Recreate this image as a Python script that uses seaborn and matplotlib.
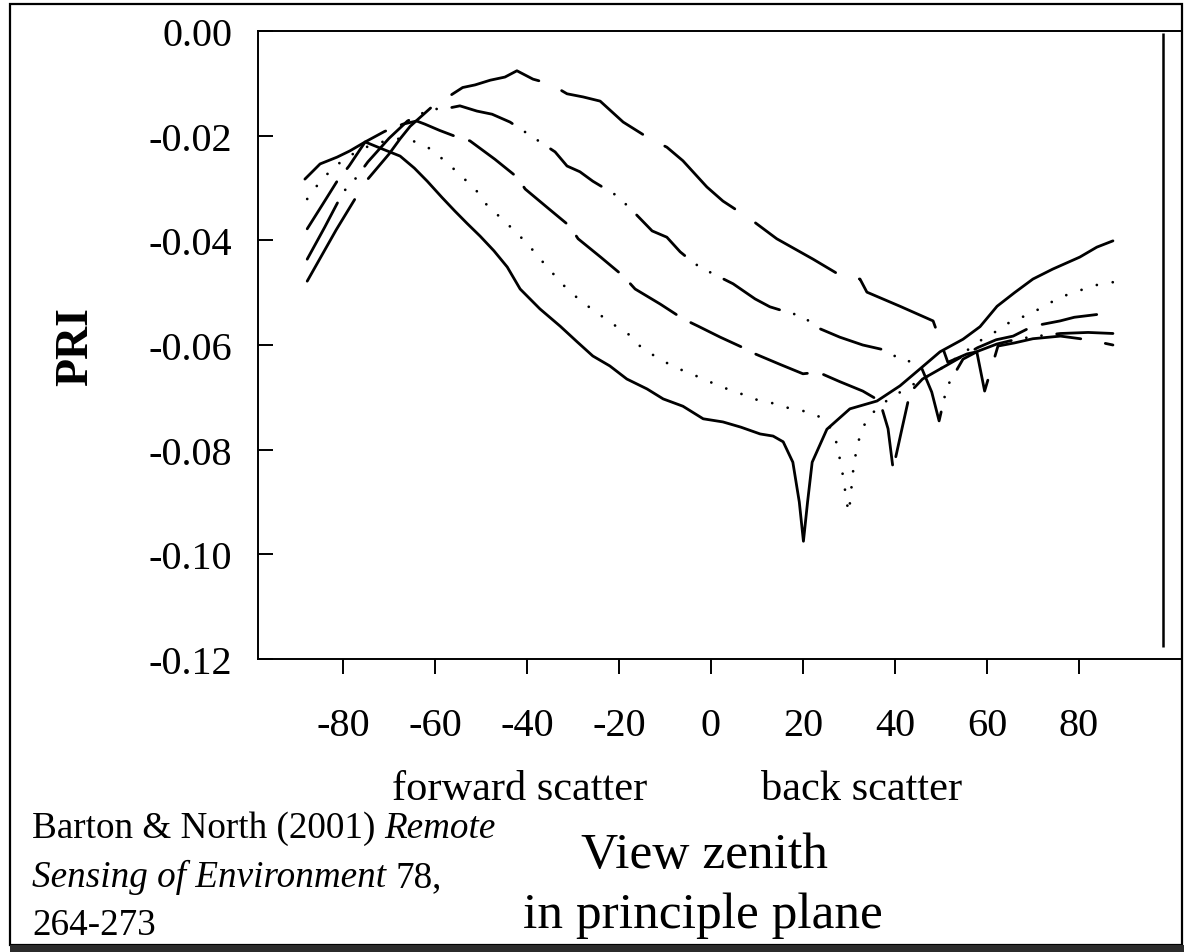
import matplotlib
matplotlib.use("Agg")
import matplotlib.pyplot as plt
import seaborn as sns
from matplotlib.patches import Rectangle

sns.set_theme(style="white")
plt.rcParams["font.family"] = ["Liberation Serif", "DejaVu Serif"]
plt.rcParams["axes.unicode_minus"] = False
plt.rcParams["text.color"] = "black"

# PRI against view zenith, one curve per solar zenith angle (hotspot dip at the sza)
x_sza20 = [-88.3, -85.0, -81.3, -78.5, -75.2, -71.3, -67.6, -64.5, -61.7, -58.5, -55.7, -53.0,
           -50.2, -47.2, -44.3, -41.5, -37.2, -32.8, -29.1, -25.7, -22.0, -18.3, -13.9, -10.4,
           -6.1, -1.7, 2.6, 6.5, 10.7, 13.5, 15.7, 17.8, 19.2, 20.1, 21.0, 22.0, 25.2, 30.2,
           36.1, 41.1, 45.4, 49.8, 54.8, 58.5, 62.2, 66.0, 70.0, 74.3, 80.2, 83.9, 87.4]
pri_sza20 = [-0.0283, -0.0254, -0.0241, -0.0229, -0.0212, -0.0226, -0.0239, -0.0262, -0.0287,
             -0.0318, -0.0344, -0.0368, -0.0392, -0.0420, -0.0451, -0.0493, -0.0531, -0.0564,
             -0.0594, -0.0621, -0.0640, -0.0665, -0.0684, -0.0703, -0.0717, -0.0741, -0.0747,
             -0.0757, -0.0770, -0.0774, -0.0785, -0.0824, -0.0900, -0.0975, -0.0900, -0.0824,
             -0.0761, -0.0722, -0.0707, -0.0678, -0.0646, -0.0613, -0.0589, -0.0565, -0.0526,
             -0.0500, -0.0474, -0.0455, -0.0432, -0.0413, -0.0401]

x_sza30 = [-87.8, -85.2, -82.0, -78.5, -75.0, -71.5, -68.0, -64.8, -61.3, -57.6, -54.3, -51.1,
           -48.7, -45.7, -42.2, -39.3, -36.7, -34.1, -31.3, -28.0, -25.0, -21.7, -18.0, -15.0,
           -11.5, -8.0, -4.6, -1.1, 2.2, 5.7, 9.1, 12.6, 16.1, 19.3, 23.0, 25.5, 27.4, 28.7,
           29.6, 30.0, 30.4, 31.1, 32.6, 34.6, 37.8, 41.5, 46.0, 50.0, 54.5, 58.5, 62.2, 65.7,
           68.9, 72.4, 76.1, 79.3, 82.8, 87.4]
pri_sza30 = [-0.0321, -0.0290, -0.0260, -0.0238, -0.0222, -0.0212, -0.0206, -0.0210, -0.0224,
             -0.0250, -0.0277, -0.0304, -0.0333, -0.0357, -0.0386, -0.0413, -0.0440, -0.0466,
             -0.0493, -0.0518, -0.0537, -0.0558, -0.0579, -0.0606, -0.0625, -0.0642, -0.0654,
             -0.0667, -0.0680, -0.0690, -0.0703, -0.0709, -0.0719, -0.0724, -0.0734, -0.0750,
             -0.0789, -0.0850, -0.0905, -0.0920, -0.0885, -0.0824, -0.0764, -0.0734, -0.0709,
             -0.0688, -0.0665, -0.0645, -0.0618, -0.0592, -0.0573, -0.0552, -0.0543, -0.0526,
             -0.0508, -0.0499, -0.0487, -0.0480]

x_sza40 = [-87.8, -84.5, -81.3, -78.7, -75.2, -71.0, -67.0, -64.0, -62.2, -59.0, -55.7, -52.4,
           -47.0, -42.2, -40.4, -35.5, -30.7, -28.9, -24.0, -19.1, -16.5, -11.0, -6.1, -2.8,
           2.0, 6.7, 9.6, 15.0, 20.0, 23.3, 28.0, 33.0, 36.7, 38.5, 39.6, 41.5, 43.3, 46.0,
           50.0, 54.0, 58.0, 62.0, 65.7, 70.0, 75.9, 79.0, 84.6, 87.4]
pri_sza40 = [-0.0378, -0.0332, -0.0287, -0.0258, -0.0212, -0.0192, -0.0178, -0.0172, -0.0178,
             -0.0190, -0.0201, -0.0210, -0.0245, -0.0279, -0.0302, -0.0338, -0.0373, -0.0397,
             -0.0432, -0.0468, -0.0493, -0.0522, -0.0550, -0.0564, -0.0585, -0.0604, -0.0617,
             -0.0637, -0.0655, -0.0652, -0.0670, -0.0688, -0.0707, -0.0760, -0.0837, -0.0761,
             -0.0690, -0.0665, -0.0645, -0.0625, -0.0605, -0.0590, -0.0583, -0.0564, -0.0554,
             -0.0547, -0.0541, -0.0537]

x_sza50 = [-87.8, -84.0, -80.0, -77.2, -74.6, -70.0, -66.0, -61.0, -58.0, -54.6, -50.9, -47.6,
           -43.7, -38.7, -33.9, -31.3, -28.5, -25.7, -20.4, -17.0, -12.8, -9.6, -6.7, -3.5,
           -0.2, 4.8, 9.6, 12.8, 16.5, 19.8, 23.7, 28.0, 33.0, 37.0, 40.4, 43.7, 45.9, 48.0,
           49.6, 51.3, 54.8, 58.0, 62.2, 66.0, 70.0, 76.0, 82.0, 87.4]
pri_sza50 = [-0.0436, -0.0375, -0.0308, -0.0281, -0.0250, -0.0205, -0.0172, -0.0149, -0.0149,
             -0.0143, -0.0153, -0.0159, -0.0174, -0.0203, -0.0231, -0.0258, -0.0269, -0.0287,
             -0.0315, -0.0344, -0.0382, -0.0394, -0.0422, -0.0445, -0.0461, -0.0483, -0.0512,
             -0.0527, -0.0537, -0.0545, -0.0569, -0.0585, -0.0600, -0.0608, -0.0623, -0.0633,
             -0.0646, -0.0690, -0.0745, -0.0680, -0.0627, -0.0612, -0.0598, -0.0590, -0.0584,
             -0.0578, -0.0576, -0.0578]

x_sza60 = [-87.8, -81.5, -75.2, -70.0, -67.6, -65.4, -60.7, -57.0, -54.0, -51.3, -48.0, -44.8,
           -42.2, -38.7, -35.0, -31.3, -27.8, -24.1, -19.1, -13.3, -9.6, -6.1, -0.9, 2.6, 8.5,
           14.3, 22.2, 28.7, 32.4, 33.9, 41.1, 48.3, 51.5, 55.7, 57.8, 59.5, 62.4, 66.0, 70.0,
           76.0, 82.0, 87.4]
pri_sza60 = [-0.0478, -0.0380, -0.0289, -0.0235, -0.0206, -0.0182, -0.0145, -0.0125, -0.0108,
             -0.0103, -0.0094, -0.0088, -0.0076, -0.0092, -0.0101, -0.0120, -0.0126, -0.0134,
             -0.0174, -0.0206, -0.0222, -0.0248, -0.0298, -0.0325, -0.0359, -0.0397, -0.0436,
             -0.0470, -0.0474, -0.0499, -0.0526, -0.0554, -0.0633, -0.0617, -0.0613, -0.0688,
             -0.0602, -0.0596, -0.0588, -0.0583, -0.0590, -0.0600]

x_ticks = [-80, -60, -40, -20, 0, 20, 40, 60, 80]
y_ticks = [0.0, -0.02, -0.04, -0.06, -0.08, -0.10, -0.12]

W, H = 1184, 953
fig = plt.figure(figsize=(W / 100, H / 100), dpi=100)
ax = fig.add_axes([258 / W, 1 - 660 / H, (1181 - 258) / W, (660 - 32) / H])

curves = [
    (x_sza20, pri_sza20, "-"),
    (x_sza30, pri_sza30, (0, (0.01, 5.8))),
    (x_sza40, pri_sza40, (0, (20, 6))),
    (x_sza50, pri_sza50, (0, (23, 5.5, 0.01, 5.5, 0.01, 5.5))),
    (x_sza60, pri_sza60, (0, (34, 9))),
]
for xs, ys, ls in curves:
    sns.lineplot(x=xs, y=ys, ax=ax, color="black", lw=2.0, linestyle=ls,
                 estimator=None, sort=False, dash_capstyle="round")

# stray vertical rule near the right edge of the original plot
ax.vlines(98.3, -0.1177, -0.0004, color="black", lw=1.8)

ax.set_xlim(-98.5, 102.2)
ax.set_ylim(-0.12, 0.0)
ax.set_xticks(x_ticks)
ax.set_xticklabels([str(v) for v in x_ticks])
ax.set_yticks(y_ticks)
ax.set_yticklabels([f"{v:.2f}" for v in y_ticks])
ax.tick_params(axis="x", direction="out", length=10.8, width=1.4, pad=23.5,
               labelsize=29, bottom=True, top=False, color="black", labelcolor="black")
ax.tick_params(axis="y", direction="in", length=10.8, width=1.4, pad=18.7,
               labelsize=29, left=True, right=False, color="black", labelcolor="black")
ax.spines["right"].set_visible(False)
for s in ["left", "top", "bottom"]:
    ax.spines[s].set_linewidth(1.4)
    ax.spines[s].set_color("black")
ax.set_xlabel("")
ax.set_ylabel("")

fig.text(76.5 / W, 1 - 346.5 / H, "PRI", rotation=90, ha="center", va="center",
         fontsize=33, fontweight="bold")
fig.text(520 / W, 1 - 800 / H, "forward scatter", ha="center", va="baseline", fontsize=30.5)
fig.text(861.5 / W, 1 - 800 / H, "back scatter", ha="center", va="baseline", fontsize=30.5)
fig.text(704 / W, 1 - 868 / H, "View zenith", ha="center", va="baseline", fontsize=37)
fig.text(702.5 / W, 1 - 928 / H, "in principle plane", ha="center", va="baseline", fontsize=37)

# citation with italic journal name, runs laid out one after another
renderer = fig.canvas.get_renderer()
cite_size = 26.7
space_px = 0.25 * cite_size * 100 / 72


def put_runs(x_px, y_px, runs):
    x = x_px
    for s, style in runs:
        t = fig.text(x / W, 1 - y_px / H, s, fontsize=cite_size, style=style,
                     ha="left", va="baseline")
        bb = t.get_window_extent(renderer=renderer)
        x = bb.x1 + space_px


put_runs(32, 838, [("Barton & North (2001)", "normal"), ("Remote", "italic")])
put_runs(32, 887, [("Sensing of Environment", "italic"), ("78,", "normal")])
put_runs(32, 935, [("264-273", "normal")])

# page frame and dark bottom band
fig.add_artist(Rectangle((10 / W, 1 - 946 / H), (1182 - 10) / W, (946 - 5) / H,
                         transform=fig.transFigure, fill=False, lw=1.6, ec="black"))
fig.add_artist(Rectangle((10 / W, 0), 1 - 10 / W, 7 / H, transform=fig.transFigure,
                         color="#2b2b2b", lw=0))

fig.savefig("out.png", dpi=100)
